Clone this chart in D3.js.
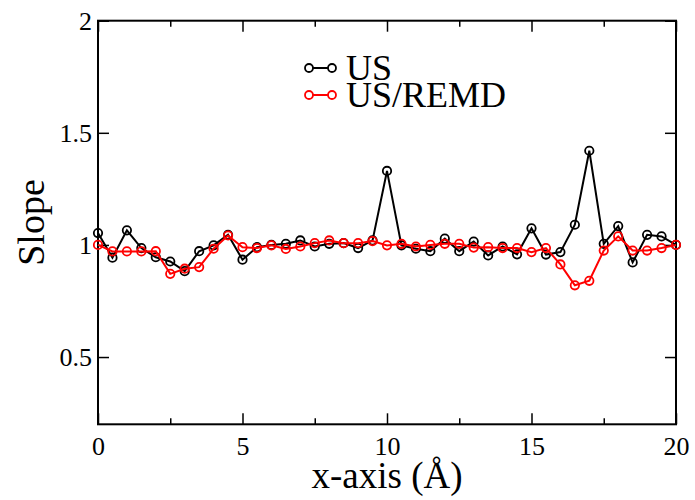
<!DOCTYPE html>
<html lang="en">
<head>
<meta charset="UTF-8">
<title>Slope vs x-axis</title>
<script src="https://d3js.org/d3.v7.min.js"></script>
<style>
  body { margin: 0; background: #fff; }
</style>
</head>
<body>
<svg id="chart" width="695" height="500"></svg>
<script>
// x positions: 0 .. 20 every 0.5
const xs = d3.range(0, 20.01, 0.5);

const usValues = [
  1.053, 0.943, 1.065, 0.986, 0.945, 0.926, 0.883, 0.972, 0.998, 1.045,
  0.934, 0.99, 1.0, 1.005, 1.02, 0.993, 1.005, 1.008, 0.986, 1.02,
  1.33, 0.998, 0.983, 0.972, 1.028, 0.972, 1.015, 0.953, 0.993, 0.958,
  1.074, 0.957, 0.968, 1.09, 1.42, 1.005, 1.084, 0.922, 1.045, 1.038,
  1.0
];

const remdValues = [
  1.0, 0.971, 0.971, 0.971, 0.972, 0.871, 0.894, 0.901, 0.983, 1.042,
  0.99, 0.986, 0.998, 0.982, 0.993, 1.008, 1.02, 1.008, 1.008, 1.017,
  0.998, 1.005, 0.993, 1.0, 1.005, 1.005, 0.988, 0.99, 0.986, 0.986,
  0.968, 0.986, 0.913, 0.82, 0.84, 0.975, 1.038, 0.975, 0.975, 0.986,
  1.0
];

const seriesNames = ["US", "US/REMD"];
const seriesColors = ["#000000", "#ff0000"];
const xTicks = [0, 5, 10, 15, 20];
const xMinorTicks = [2.5, 7.5, 12.5, 17.5];
const yTicks = [0.5, 1, 1.5, 2];

const plotLeft = 98, plotRight = 676, plotTop = 20.7, plotBottom = 424.3;
const serif = "'Liberation Serif', 'Times New Roman', Times, serif";

const svg = d3.select("#chart");

const x = d3.scaleLinear().domain([0, 20]).range([plotLeft, plotRight]);
const y = d3.scaleLinear().domain([0.2, 2]).range([plotBottom, plotTop]);

const fmt = d => String(d);

// axes with mirrored ticks on all four sides
function axisStyle(g) {
  g.attr("font-family", serif).attr("font-size", 26);
  g.select(".domain").remove();
  g.selectAll(".tick line").attr("stroke", "#000").attr("stroke-width", 1.5);
  g.selectAll(".tick text").attr("fill", "#000");
}

svg.append("g")
  .attr("transform", `translate(0,${plotBottom})`)
  .call(d3.axisBottom(x).tickValues(xTicks).tickFormat(fmt).tickSizeInner(-11).tickPadding(12))
  .call(axisStyle);
svg.append("g")
  .attr("transform", `translate(0,${plotBottom})`)
  .call(d3.axisBottom(x).tickValues(xMinorTicks).tickFormat("").tickSizeInner(-6))
  .call(axisStyle);
svg.append("g")
  .attr("transform", `translate(0,${plotTop})`)
  .call(d3.axisTop(x).tickValues(xTicks).tickFormat("").tickSizeInner(-11))
  .call(axisStyle);
svg.append("g")
  .attr("transform", `translate(0,${plotTop})`)
  .call(d3.axisTop(x).tickValues(xMinorTicks).tickFormat("").tickSizeInner(-6))
  .call(axisStyle);
svg.append("g")
  .attr("transform", `translate(${plotLeft},0)`)
  .call(d3.axisLeft(y).tickValues(yTicks).tickFormat(fmt).tickSizeInner(-11).tickPadding(6))
  .call(axisStyle);
svg.append("g")
  .attr("transform", `translate(${plotRight},0)`)
  .call(d3.axisRight(y).tickValues(yTicks).tickFormat("").tickSizeInner(-11))
  .call(axisStyle);

// frame
svg.append("rect")
  .attr("x", plotLeft).attr("y", plotTop)
  .attr("width", plotRight - plotLeft).attr("height", plotBottom - plotTop)
  .attr("fill", "none").attr("stroke", "#000").attr("stroke-width", 2);

// axis labels
svg.append("text")
  .attr("x", (plotLeft + plotRight) / 2).attr("y", 488)
  .attr("text-anchor", "middle")
  .attr("font-family", serif)
  .attr("font-size", 37)
  .text("x-axis (Å)");

svg.append("text")
  .attr("transform", `translate(44,${(plotTop + plotBottom) / 2}) rotate(-90)`)
  .attr("text-anchor", "middle")
  .attr("font-family", serif)
  .attr("font-size", 38)
  .text("Slope");

// series
const allSeries = [usValues, remdValues];
const line = d3.line().x((d, i) => x(xs[i])).y(d => y(d));

allSeries.forEach((vals, k) => {
  const g = svg.append("g");
  g.append("path")
    .datum(vals)
    .attr("d", line)
    .attr("fill", "none")
    .attr("stroke", seriesColors[k])
    .attr("stroke-width", 2);
  g.selectAll("circle")
    .data(vals)
    .join("circle")
    .attr("cx", (d, i) => x(xs[i]))
    .attr("cy", d => y(d))
    .attr("r", 4.2)
    .attr("fill", "none")
    .attr("stroke", seriesColors[k])
    .attr("stroke-width", 1.8);
});

// legend
const legend = svg.append("g");
seriesNames.forEach((name, k) => {
  const ly = 68 + k * 27;
  legend.append("line")
    .attr("x1", 309).attr("x2", 332)
    .attr("y1", ly).attr("y2", ly)
    .attr("stroke", seriesColors[k]).attr("stroke-width", 2);
  [309, 332].forEach(cx => {
    legend.append("circle")
      .attr("cx", cx).attr("cy", ly).attr("r", 4)
      .attr("fill", "#fff")
      .attr("stroke", seriesColors[k]).attr("stroke-width", 1.8);
  });
  legend.append("text")
    .attr("x", 346).attr("y", ly + 12)
    .attr("font-family", serif)
    .attr("font-size", 36)
    .text(name);
});
</script>
</body>
</html>
